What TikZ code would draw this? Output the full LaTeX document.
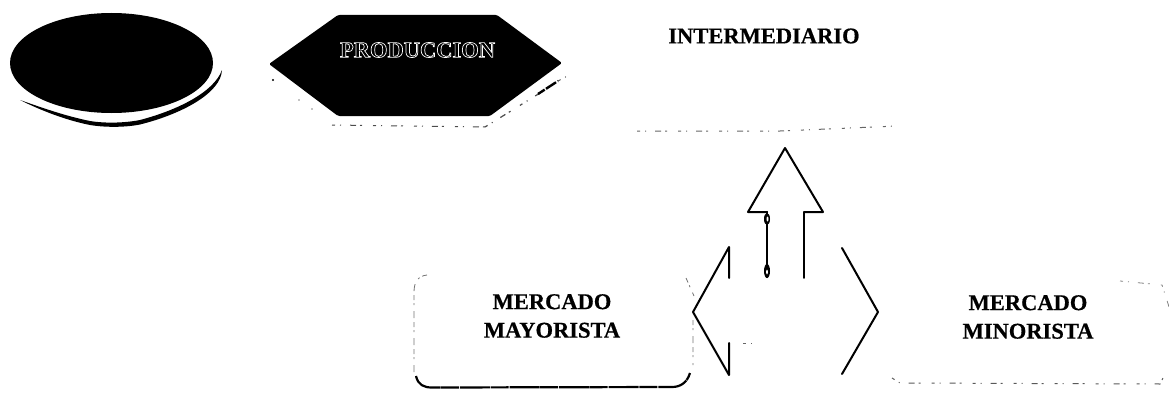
\documentclass[tikz,border=0pt]{standalone}
\usepackage{fontspec}
\setmainfont{Liberation Serif}[BoldFeatures={FakeBold=0.5}]
\newfontfamily\prodfont{Liberation Serif}
\usetikzlibrary{shapes.geometric}
\tikzset{
  lbl/.style={font=\bfseries\fontsize{22.5}{28.5}\selectfont,align=center,inner sep=0pt,text=black},
  blockline/.style={draw=black,line width=2pt,line cap=round,line join=round},
  thinline/.style={draw=black,line width=1.6pt,line cap=round,line join=round},
  specks/.style={draw=black!70,line width=1pt,dash pattern=on 3pt off 5pt on 1pt off 9pt on 6pt off 4pt on 2pt off 11pt},
  faintside/.style={draw=black!55,line width=0.8pt,dash pattern=on 5pt off 3pt on 2pt off 6pt on 7pt off 4pt},
  heavyedge/.style={draw=black,line width=2.2pt,dash pattern=on 30pt off 0.6pt on 18pt off 1pt}
}
\begin{document}
\begin{tikzpicture}[x=1pt,y=-1pt]
\useasboundingbox (0,0) rectangle (1169,396);
% ellipse with crescent shadow
\fill[black] (111.5,63) ellipse [x radius=101.5,y radius=50];
\fill[black] (222,70) .. controls (221,93) and (182,114) .. (140,124.5) .. controls (125,127.5) and (105,127.5) .. (90,125)
  .. controls (65,120) and (40,110) .. (20,100)
  .. controls (40,107) and (65,116) .. (90,121) .. controls (105,123.5) and (125,123) .. (140,120) .. controls (178,110) and (214,92) .. (222,70) -- cycle;
% hexagon
\fill[black,rounded corners=1.5pt] (269,64) -- (338,15) -- (497,15) -- (562,63) -- (490,116) -- (338,116) -- cycle;
\draw[specks] (332,125) -- (485,127);
\draw[specks,line width=1.2pt] (485,127) -- (540,93);
\draw[black,line width=2.4pt,dash pattern=on 8pt off 1.5pt on 12pt off 2pt] (538,94) -- (558,81);
\draw[specks,line width=0.9pt] (558,81) -- (573,73);
\fill[black] (273,80) circle (1.2pt) (299,100) circle (0.7pt) (312,109) circle (0.7pt);
\node[inner sep=0pt,text=white] (prod) at (417.5,50)
  {\prodfont\fontsize{22.5}{24}\selectfont\bfseries\special{pdf:code 1 Tr 0.7 w 1 1 1 RG}PRODUCCION\special{pdf:code 0 Tr}};
% intermediario
\node[lbl] (inter) at (764,36) {INTERMEDIARIO};
\draw[specks,draw=black!60] (637,131) -- (780,131) -- (897,126);
% up arrow
\coordinate (uptip) at (785,148);
\coordinate (upl) at (748,212);
\coordinate (upr) at (823,212);
\coordinate (upsl) at (767,212);
\coordinate (upsr) at (804,212);
\coordinate (upel) at (767,277);
\coordinate (uper) at (804,278);
\draw[blockline] (upsl) -- (upl) -- (uptip) -- (upr) -- (upsr);
\draw[thinline] (upsr) -- (uper);
\draw[blockline,line width=2.4pt] (upsl) -- (upel);
\fill[black] (767,219) ellipse [x radius=3,y radius=6];
\fill[white] (767.5,219) ellipse [x radius=1,y radius=2.5];
\fill[black] (767,271) ellipse [x radius=3,y radius=7];
\fill[white] (767,272) ellipse [x radius=0.9,y radius=2.5];
% left arrow
\coordinate (ltip) at (693,312);
\draw[blockline] (729,278) -- (729,247) -- (ltip) -- (729,375) -- (729,343);
\draw[specks,draw=black!60] (743,343) -- (758,343);
% right arrow
\coordinate (rtip) at (878,312);
\draw[blockline] (842,248) -- (rtip) -- (842,374);
% mayorista box
\node[lbl] (may) at (552,316) {MERCADO\\MAYORISTA};
\draw[faintside] (427,275) .. controls (418,276) and (414,282) .. (414,292) -- (414,372);
\draw[faintside] (686,278) -- (694,296) (693,320) -- (693,365);
\draw[heavyedge] (416,376) .. controls (418,385) and (424,387.5) .. (432,387.5) -- (672,387) .. controls (680,387) and (687,383) .. (690,373);
% minorista box
\node[lbl] (min) at (1028,317) {MERCADO\\MINORISTA};
\draw[specks,draw=black!65] (892,378) -- (900,383) -- (1160,384) -- (1163,378);
\draw[specks,draw=black!50,line width=0.8pt] (1120,281) -- (1162,285) -- (1170,310);
\end{tikzpicture}
\end{document}
